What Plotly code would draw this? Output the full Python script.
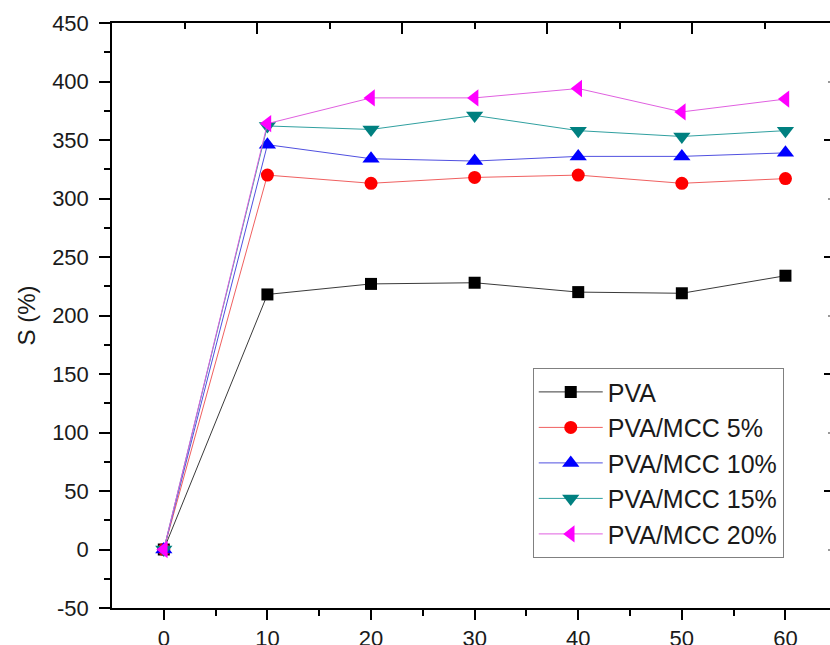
import plotly.graph_objects as go

# Swelling ratio S (%) versus time for neat PVA and PVA/MCC composites
time_min = [0, 10, 20, 30, 40, 50, 60]

s_pva = [0, 218, 227, 228, 220, 219, 234]
s_mcc5 = [0, 320, 313, 318, 320, 313, 317]
s_mcc10 = [0, 346, 334, 332, 336, 336, 339]
s_mcc15 = [0, 362, 359, 371, 358, 353, 358]
s_mcc20 = [0, 364, 386, 386, 394, 374, 385]

series_names = ["PVA", "PVA/MCC 5%", "PVA/MCC 10%", "PVA/MCC 15%", "PVA/MCC 20%"]
series_values = [s_pva, s_mcc5, s_mcc10, s_mcc15, s_mcc20]
series_colors = ["#000000", "#ff0000", "#0000ff", "#008080", "#ff00ff"]
line_colors = ["#3a3a3a", "#f06060", "#5050e0", "#30a0a0", "#e060e0"]
series_symbols = ["square", "circle", "triangle-up", "triangle-down", "triangle-left"]
symbol_sizes = [12, 13, 15, 15, 15]

x_major = [0, 10, 20, 30, 40, 50, 60]
y_major = list(range(-50, 451, 50))
y_labels = [str(v) for v in y_major]  # plain hyphen for the negative label
top_major = [9, 23, 37, 51]
top_minor = [2, 16, 30, 44, 58]
right_major = [50, 150, 250, 350]
right_minor = [0, 100, 200, 300, 400]

FONT = "Liberation Sans, Arial, sans-serif"
TXT = "#1a1a1a"
X_RANGE = [-5, 64.3]
Y_RANGE = [-50, 450]

fig = go.Figure()
for name, vals, col, lcol, sym, sz in zip(series_names, series_values, series_colors,
                                         line_colors, series_symbols, symbol_sizes):
    fig.add_trace(go.Scatter(
        x=time_min, y=vals, name=name, mode="lines+markers",
        line=dict(color=lcol, width=1),
        marker=dict(symbol=sym, size=sz, color=col, line=dict(width=0)),
    ))

# empty trace so the mirrored top/right axes get their own subplot
fig.add_trace(go.Scatter(x=[None], y=[None], xaxis="x2", yaxis="y2",
                         showlegend=False, hoverinfo="skip"))

axis_common = dict(showgrid=False, zeroline=False, showline=True,
                   linecolor="#000000", linewidth=1.5, tickcolor="#000000",
                   tickwidth=1.5)

fig.update_layout(
    width=830, height=645,
    margin=dict(l=112, r=0, t=23, b=37, autoexpand=False),
    paper_bgcolor="white", plot_bgcolor="white",
    font=dict(family=FONT, color=TXT),
    xaxis=dict(**axis_common, range=X_RANGE, tickmode="array", tickvals=x_major,
               ticks="outside", ticklen=10,
               minor=dict(tickmode="array", tickvals=[5, 15, 25, 35, 45, 55],
                          ticks="outside", ticklen=6, tickwidth=1.5, tickcolor="#000000"),
               tickfont=dict(size=22, family=FONT, color=TXT)),
    yaxis=dict(**axis_common, range=Y_RANGE, tickmode="array", tickvals=y_major,
               ticktext=y_labels, ticks="outside", ticklen=11, ticklabelstandoff=6,
               minor=dict(tickmode="array", tickvals=[v + 25 for v in y_major[:-1]],
                          ticks="outside", ticklen=6, tickwidth=1.5, tickcolor="#000000"),
               tickfont=dict(size=22, family=FONT, color=TXT),
               title=dict(text="S (%)", font=dict(size=24, family=FONT, color=TXT),
                          standoff=10)),
    xaxis2=dict(**axis_common, overlaying="x", side="top", anchor="y2", range=X_RANGE,
                tickmode="array", tickvals=top_major, ticks="inside", ticklen=11,
                showticklabels=False,
                minor=dict(tickmode="array", tickvals=top_minor, ticks="inside",
                           ticklen=6, tickwidth=1.5, tickcolor="#000000")),
    yaxis2=dict(showgrid=False, zeroline=False, showline=False, overlaying="y",
                side="right", anchor="x2", range=Y_RANGE, tickmode="array",
                tickvals=right_major, ticks="inside", ticklen=6, tickwidth=1.5,
                tickcolor="#000000", showticklabels=False,
                minor=dict(tickmode="array", tickvals=right_minor, ticks="inside",
                           ticklen=2, tickwidth=1.5, tickcolor="#999999")),
    legend=dict(x=0.586, y=0.41, xanchor="left", yanchor="top",
                bgcolor="white", bordercolor="#808080", borderwidth=1,
                font=dict(size=25, family=FONT, color=TXT),
                itemwidth=64, tracegroupgap=0),
    showlegend=True,
)

fig.write_html("out.html")
